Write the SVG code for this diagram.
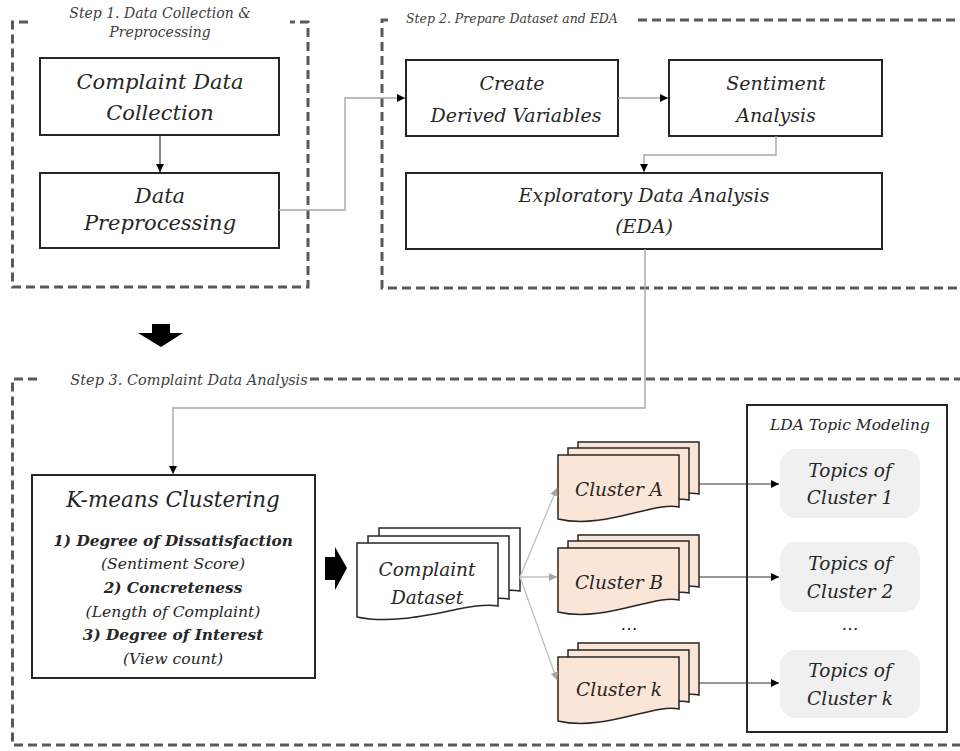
<svg xmlns="http://www.w3.org/2000/svg" width="960" height="751" viewBox="0 0 960 751">
<style>
text{font-family:"DejaVu Serif","Liberation Serif",serif;font-style:italic}
.t{fill:#262626;text-anchor:middle}
.step{fill:#404040}
.box{fill:#fff;stroke:#262626;stroke-width:2}
.nobox{fill:none;stroke:#262626;stroke-width:2}
.dash{fill:none;stroke:#595959;stroke-width:3;stroke-dasharray:9 5}
.con{fill:none;stroke:#a6a6a6;stroke-width:1.4}
.con2{fill:none;stroke:#333;stroke-width:1.2}
.gcon{fill:none;stroke:#bfbfbf;stroke-width:1.3}
.doc{fill:#fff;stroke:#262626;stroke-width:1.5}
.cdoc{fill:#fbe5d6;stroke:#262626;stroke-width:1.5}
.topic{fill:#f0f0f0;stroke:none}
</style>
<defs>
<marker id="ah" viewBox="0 0 10 10" refX="10" refY="5" markerWidth="8" markerHeight="8" markerUnits="userSpaceOnUse" orient="auto"><path d="M0,0 L10,5 L0,10 z" fill="#000"/></marker>
<marker id="gh" viewBox="0 0 10 10" refX="10" refY="5" markerWidth="8" markerHeight="8" markerUnits="userSpaceOnUse" orient="auto"><path d="M0,0 L10,5 L0,10 z" fill="#a6a6a6"/></marker>
<path id="cd" d="M0,0 H141 V63 C113,57 52,85 0,74 Z"/>
<path id="cl" d="M0,0 H121 V52 C97,46 45,75 0,64 Z"/>
</defs>

<g id="step1">
<path class="dash" d="M28,22 H12.5 V287 H308 V22 H290"/>
<text class="step" x="160" y="18" font-size="14" text-anchor="middle">Step 1. Data Collection &amp;</text>
<text class="step" x="160" y="37" font-size="14" text-anchor="middle">Preprocessing</text>
</g>
<g id="step2">
<path class="dash" d="M388,20 H382 V288 H965"/>
<path class="dash" d="M638,20 H965"/>
<text class="step" x="406" y="23" font-size="12.5">Step 2. Prepare Dataset and EDA</text>
</g>
<g id="step3">
<path class="dash" d="M37,379 H12.5 V745 H965"/>
<path class="dash" d="M310,379 H965"/>
<text class="step" x="189" y="385" font-size="14.5" text-anchor="middle">Step 3. Complaint Data Analysis</text>
</g>

<g id="n-collection">
<rect class="box" x="40" y="58" width="239" height="77"/>
<text class="t" x="160" y="89" font-size="21">Complaint Data</text>
<text class="t" x="160" y="120" font-size="21">Collection</text>
</g>
<g id="n-preprocessing">
<rect class="box" x="40" y="173" width="239" height="75"/>
<text class="t" x="160" y="203" font-size="21">Data</text>
<text class="t" x="160" y="230" font-size="21">Preprocessing</text>
</g>
<g id="n-derived">
<rect class="box" x="406" y="60" width="212" height="76"/>
<text class="t" x="512" y="90" font-size="19">Create</text>
<text class="t" x="516" y="122" font-size="19">Derived Variables</text>
</g>
<g id="n-sentiment">
<rect class="box" x="669" y="60" width="213" height="76"/>
<text class="t" x="776" y="90" font-size="19">Sentiment</text>
<text class="t" x="776" y="122" font-size="19">Analysis</text>
</g>
<g id="n-eda">
<rect class="box" x="406" y="173" width="476" height="76"/>
<text class="t" x="644" y="202" font-size="19">Exploratory Data Analysis</text>
<text class="t" x="644" y="233" font-size="19">(EDA)</text>
</g>

<g id="arrow-down">
<path d="M152,324 H170 V333 H183 L161,347 L138,333 H152 Z" fill="#000"/>
</g>

<g id="n-kmeans">
<rect class="box" x="32" y="475" width="283" height="203"/>
<text class="t" x="173" y="507" font-size="21.5">K-means Clustering</text>
<text class="t" x="173" y="546" font-size="15.3" font-weight="bold">1) Degree of Dissatisfaction</text>
<text class="t" x="173" y="569" font-size="15.6">(Sentiment Score)</text>
<text class="t" x="173" y="593" font-size="15.3" font-weight="bold">2) Concreteness</text>
<text class="t" x="173" y="617" font-size="15.6">(Length of Complaint)</text>
<text class="t" x="173" y="640" font-size="15.3" font-weight="bold">3) Degree of Interest</text>
<text class="t" x="173" y="664" font-size="15.6">(View count)</text>
</g>

<g id="arrow-right">
<path d="M325,557 H335 V547 L347,568 L335,590 V580 H325 Z" fill="#000"/>
</g>

<g id="n-dataset">
<use href="#cd" class="doc" x="379" y="528"/>
<use href="#cd" class="doc" x="368" y="536"/>
<use href="#cd" class="doc" x="357" y="543"/>
<text class="t" x="427" y="576" font-size="18.5">Complaint</text>
<text class="t" x="427" y="604" font-size="18.5">Dataset</text>
</g>

<g id="n-cluster-a">
<use href="#cl" class="cdoc" x="578" y="442"/>
<use href="#cl" class="cdoc" x="568" y="448"/>
<use href="#cl" class="cdoc" x="558" y="455"/>
<text class="t" x="619" y="496" font-size="18.5">Cluster A</text>
</g>
<g id="n-cluster-b">
<use href="#cl" class="cdoc" x="578" y="535"/>
<use href="#cl" class="cdoc" x="568" y="541"/>
<use href="#cl" class="cdoc" x="558" y="548"/>
<text class="t" x="619" y="589" font-size="18.5">Cluster B</text>
</g>
<text class="t" x="629" y="630" font-size="17">…</text>
<g id="n-cluster-k">
<use href="#cl" class="cdoc" x="578" y="643"/>
<use href="#cl" class="cdoc" x="568" y="650"/>
<use href="#cl" class="cdoc" x="558" y="657"/>
<text class="t" x="619" y="696" font-size="18.5">Cluster k</text>
</g>

<g id="n-lda">
<rect class="nobox" x="747" y="405" width="200" height="327"/>
<text class="t" x="850" y="430" font-size="15.5">LDA Topic Modeling</text>
</g>
<g id="n-topic-1">
<rect class="topic" x="780" y="449" width="140" height="69" rx="16"/>
<text class="t" x="850" y="477" font-size="18.5">Topics of</text>
<text class="t" x="850" y="504" font-size="18.5">Cluster 1</text>
</g>
<g id="n-topic-2">
<rect class="topic" x="780" y="542" width="140" height="70" rx="16"/>
<text class="t" x="850" y="570" font-size="18.5">Topics of</text>
<text class="t" x="850" y="598" font-size="18.5">Cluster 2</text>
</g>
<text class="t" x="850" y="630" font-size="17">…</text>
<g id="n-topic-k">
<rect class="topic" x="780" y="650" width="140" height="68" rx="16"/>
<text class="t" x="850" y="677" font-size="18.5">Topics of</text>
<text class="t" x="850" y="705" font-size="18.5">Cluster k</text>
</g>

<g id="connectors">
<path class="con2" d="M160,135 V172" marker-end="url(#ah)"/>
<path class="con" d="M279,210 H345 V98 H405" marker-end="url(#ah)"/>
<path class="con" d="M618,98 H668" marker-end="url(#ah)"/>
<path class="con" d="M776,136 V155 H644 V172" marker-end="url(#ah)"/>
<path class="con" d="M645,249 V408 H173 V474" marker-end="url(#ah)"/>
<path class="gcon" d="M520,577 L557,488" marker-end="url(#gh)"/>
<path class="gcon" d="M520,577 L557,577" marker-end="url(#gh)"/>
<path class="gcon" d="M520,577 L557,680" marker-end="url(#gh)"/>
<path class="con2" d="M699,484 H779" marker-end="url(#ah)"/>
<path class="con2" d="M699,577 H779" marker-end="url(#ah)"/>
<path class="con2" d="M699,683 H779" marker-end="url(#ah)"/>
</g>
</svg>
